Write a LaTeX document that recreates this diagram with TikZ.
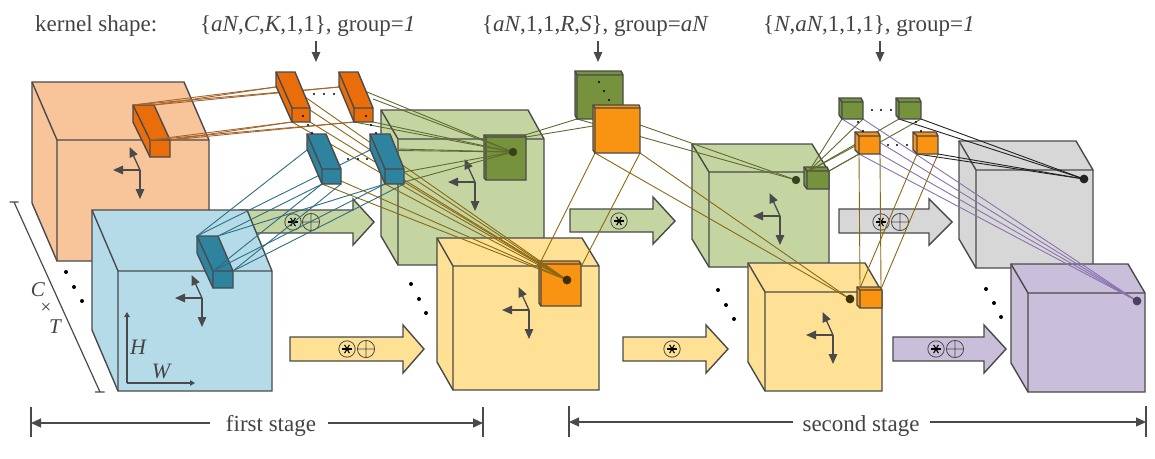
\documentclass[tikz,border=0pt]{standalone}
\usepackage{fontspec}
\setmainfont{Liberation Serif}
\usetikzlibrary{arrows.meta,calc}
\definecolor{edgeC}{HTML}{4A4A4A}
\definecolor{txtC}{HTML}{444444}
\definecolor{peachC}{HTML}{F8C49A}
\definecolor{skyC}{HTML}{B5DBE8}
\definecolor{sageC}{HTML}{C4D5A2}
\definecolor{butterC}{HTML}{FEE195}
\definecolor{greyC}{HTML}{D7D7D7}
\definecolor{lilacC}{HTML}{C9BFDA}
\definecolor{dkorangeC}{HTML}{E96E0B}
\definecolor{tealC}{HTML}{2E839E}
\definecolor{mossC}{HTML}{76923C}
\definecolor{brightC}{HTML}{F99312}
\definecolor{lnOlive}{HTML}{5F6B2F}
\definecolor{lnGold}{HTML}{8B6914}
\definecolor{lnTeal}{HTML}{2B6E85}
\definecolor{lnBrown}{HTML}{A5652F}
\definecolor{lnPurple}{HTML}{8A72AE}
\definecolor{lnBlack}{HTML}{222222}
\definecolor{dotOlive}{HTML}{39401C}
\definecolor{dotGold}{HTML}{3F2F09}
\definecolor{dotPurple}{HTML}{4C3F60}
\tikzset{
  facet/.style={draw=edgeC,line width=1.4pt,line join=miter},
  axisarrow/.style={draw=edgeC,line width=1.3pt,-{Triangle[width=8.5pt,length=10pt]},color=edgeC},
  hwarrow/.style={draw=edgeC,line width=1.2pt,-{Triangle[width=5.5pt,length=5pt]},color=edgeC},
  dimarrow/.style={draw=edgeC,line width=1.2pt,-{Triangle[width=9pt,length=10pt]},color=edgeC},
  downarrow/.style={draw=edgeC,line width=1.2pt,-{Triangle[width=8.5pt,length=10pt]},color=edgeC},
  wire/.style={line width=0.9pt},
  olive/.style={wire,draw=lnOlive},
  gold/.style={wire,draw=lnGold},
  tealwire/.style={wire,draw=lnTeal},
  brown/.style={wire,draw=lnBrown},
  lilac/.style={wire,draw=lnPurple},
  blackwire/.style={wire,draw=lnBlack},
  label/.style={text=txtC,font=\fontsize{23}{23}\selectfont,inner sep=0pt,anchor=base west},
  midlabel/.style={text=txtC,font=\fontsize{23}{23}\selectfont,inner sep=0pt,anchor=base},
  dimlabel/.style={text=txtC,font=\fontsize{22}{22}\selectfont\itshape,inner sep=0pt},
  tiny/.style={circle,fill=black,inner sep=0pt,minimum size=2.4pt},
  ell/.style={circle,fill=black,inner sep=0pt,minimum size=4pt},
}
% name, colour, back-top-left x,y, back-top-right x, front-top-left x,y, front-top-right x, bottom y
\newcommand\cuboid[9]{%
  \coordinate (#1-a) at (#3,#4);
  \coordinate (#1-b) at (#5,#4);
  \coordinate (#1-g) at (#6,#7);
  \coordinate (#1-c) at (#8,#7);
  \coordinate (#1-d) at (#8,#9);
  \coordinate (#1-e) at (#6,#9);
  \coordinate (#1-f) at (#3,#4+#9-#7);
  \draw[facet,fill=#2] (#1-a) -- (#1-b) -- (#1-c) -- (#1-d) -- (#1-e) -- (#1-f) -- cycle;
  \draw[facet] (#1-a) -- (#1-g) -- (#1-c) (#1-g) -- (#1-e);
}
% colour, left x, body top y, body bottom y, head base x, tip x, mid y, head top y, head bottom y
\newcommand\blockarrow[9]{%
  \draw[facet,fill=#1] (#2,#3) -- (#5,#3) -- (#5,#8) -- (#6,#7) -- (#5,#9) -- (#5,#4) -- (#2,#4) -- cycle;
}
\newcommand\opstar[2]{%
  \draw[edgeC,line width=0.8pt] (#1,#2) circle (8.2);
  \foreach \t in {0,60,120} {\draw[black,line width=1.1pt] ($(#1,#2)+(\t:4.8)$) -- ($(#1,#2)+(\t+180:4.8)$);}
}
\newcommand\opplus[2]{%
  \draw[edgeC,line width=0.8pt] (#1,#2) circle (8.6) (#1-8.6,#2) -- (#1+8.6,#2) (#1,#2-8.6) -- (#1,#2+8.6);
}
\newcommand\axes[2]{%
  \draw[axisarrow] (#1,#2) -- (#1-27,#2);
  \draw[axisarrow] (#1,#2) -- (#1,#2+29);
  \draw[axisarrow] (#1,#2) -- (#1-10.5,#2-23);
}
\begin{document}
\begin{tikzpicture}[x=1pt,y=-1pt]
\useasboundingbox (0,0) rectangle (1155,458);
\fill[white] (0,0) rectangle (1155,458);

% ---- big feature blocks and block arrows
\cuboid{P}{peachC}{32}{82}{184}{57}{140}{209}{261}
\axes{140}{170}
\blockarrow{sageC}{240}{210}{233}{353}{374}{222}{199}{245}
\opstar{293}{222}\opplus{311}{222}
\cuboid{B}{skyC}{92}{210}{247}{118}{271}{272}{391}
\axes{202}{298}
\cuboid{GA}{sageC}{381}{110}{528}{398}{139}{544}{265}
\axes{475}{182}
\cuboid{YA}{butterC}{437}{238}{582}{453}{266}{599}{390}
\axes{529}{310}
\blockarrow{butterC}{290}{337}{361}{403}{424}{349}{325}{373}
\opstar{347}{349}\opplus{366}{349}
\blockarrow{sageC}{570}{209}{232}{653}{675}{221}{197}{244}
\opstar{619}{221}
\blockarrow{butterC}{623}{337}{361}{706}{728}{349}{325}{373}
\opstar{672}{349}
\cuboid{GB}{sageC}{692}{144}{812}{709}{172}{829}{267}
\axes{780}{216}
\cuboid{YB}{butterC}{748}{263}{865}{765}{292}{882}{391}
\axes{833}{335}
\blockarrow{greyC}{839}{209}{233}{929}{952}{222}{199}{245}
\opstar{881}{222}\opplus{900}{222}
\cuboid{H}{greyC}{959}{141}{1076}{976}{170}{1093}{268}
\cuboid{L}{lilacC}{1011}{264}{1128}{1028}{293}{1145}{392}
\blockarrow{lilacC}{893}{337}{361}{984}{1006}{349}{325}{373}
\opstar{936}{349}\opplus{955}{349}

% ---- patches lying on the blocks
\cuboid{pp}{dkorangeC}{133}{105}{154}{150}{140}{170}{157}
\cuboid{bp}{tealC}{197}{236}{218}{213}{271}{233}{288}
\cuboid{gp}{mossC}{484}{135}{525}{486}{137}{526}{180}
\cuboid{yp}{brightC}{539}{261}{579}{541}{264}{581}{306}
\cuboid{hp}{mossC}{804}{167}{827}{807}{171}{829}{189}
\cuboid{zp}{brightC}{857}{287}{880}{860}{290}{882}{308}

% ---- response points
\coordinate (gdot) at (513,152);
\coordinate (ydot) at (567,280);
\coordinate (hdot) at (796,180);
\coordinate (zdot) at (850,299);
\coordinate (kdot) at (1084,179);
\coordinate (ldot) at (1137,301);

% ---- kernel corner names
\coordinate (ka-e) at (292,122); \coordinate (ka-d) at (310,122);
\coordinate (ka-u) at (305,97); \coordinate (ka-v) at (310,110);
\coordinate (kb-e) at (354,122); \coordinate (kb-d) at (373,122);
\coordinate (kb-u) at (367,92); \coordinate (kb-v) at (373,99); \coordinate (kb-w) at (339,87);
\coordinate (ta-f) at (307,150); \coordinate (ta-e) at (322,184); \coordinate (ta-d) at (341,184);
\coordinate (ta-w) at (341,181);
\coordinate (tb-f) at (370,150); \coordinate (tb-e) at (385,184); \coordinate (tb-d) at (404,184);
\coordinate (tb-u) at (398,149); \coordinate (tb-v) at (398,150.5); \coordinate (tb-w) at (404,172); \coordinate (tb-x) at (404,182);
\coordinate (ka-f) at (276,87);
\coordinate (mg-e) at (577,119); \coordinate (mg-d) at (623,119);
\coordinate (mo-e) at (595,153); \coordinate (mo-d) at (640,153); \coordinate (mo-l) at (593,126);
\coordinate (ga-e) at (842,119); \coordinate (ga-d) at (863,119);
\coordinate (gb-e) at (899,119); \coordinate (gb-d) at (921,119);
\coordinate (oa-e) at (859,154); \coordinate (oa-d) at (880,154); \coordinate (oa-l) at (857,145);
\coordinate (ob-e) at (917,154); \coordinate (ob-d) at (938,154);
\coordinate (hp-l) at (809,171); \coordinate (yp-t) at (540,263); \coordinate (yp-r) at (582,265);
\coordinate (zp-l) at (860,288); \coordinate (zp-r) at (881,289);

% ---- connectors
\foreach \t in {pp-a,pp-b} {\draw[brown] (\t) -- (ka-f); \draw[brown] (\t) -- (kb-w);}
\foreach \t in {pp-g,pp-c} {\draw[brown] (\t) -- (ka-e); \draw[brown] (\t) -- (kb-e);}
\foreach \t in {ta-f,tb-f} {\draw[tealwire] (bp-a) -- (\t);}
\foreach \t in {ta-e,tb-e} {\draw[tealwire] (bp-b) -- (\t); \draw[tealwire] (bp-g) -- (\t);}
\foreach \t in {ta-d,tb-d} {\draw[tealwire] (bp-c) -- (\t);}
\foreach \t in {ka-u,ka-v,ka-e,ka-d,ta-e,ta-w,tb-e,tb-x} {\draw[gold] (\t) -- (ydot);}
\foreach \t in {kb-u,kb-v,kb-e,kb-d,tb-u,tb-v,tb-w,tb-x} {\draw[olive] (\t) -- (gdot);}
\draw[olive] (gp-b) -- (mg-e);
\draw[olive] (gp-c) -- (mo-l);
\draw[olive] (mg-e) -- (hdot);
\draw[olive] (mg-d) -- (hdot);
\draw[gold] (mo-e) -- (yp-t);
\draw[gold] (mo-d) -- (yp-r);
\draw[gold] (mo-e) -- (zdot);
\draw[gold] (mo-d) -- (zdot);
\draw[olive] (hp-l) -- (ga-e);
\draw[olive] (hp-l) -- (ga-d);
\draw[olive] (hp-l) -- (oa-l);
\draw[olive] (hp-l) -- (gb-e);
\draw[olive] (hp-c) -- (gb-d);
\draw[olive] (hp-c) -- (oa-e);
\draw[gold] (oa-e) -- (zp-l);
\draw[gold] (oa-d) -- (zp-r);
\draw[gold] (ob-e) -- (zp-l);
\draw[gold] (ob-d) -- (zp-r);
\foreach \t in {gb-e,gb-d,ob-e,ob-d} {\draw[blackwire] (\t) -- (kdot);}
\foreach \t in {ga-e,ga-d,oa-e,oa-d} {\draw[lilac] (\t) -- (ldot);}

% ---- kernels
\cuboid{ka}{dkorangeC}{276}{72}{295}{292}{108}{310}{122}
\cuboid{kb}{dkorangeC}{339}{72}{358}{354}{108}{373}{122}
\cuboid{ta}{tealC}{307}{134}{326}{322}{169}{341}{184}
\cuboid{tb}{tealC}{370}{134}{390}{385}{169}{404}{184}
\cuboid{mg}{mossC}{575}{71}{621}{577}{75}{623}{119}
\cuboid{mo}{brightC}{593}{105}{639}{595}{108}{640}{153}
\cuboid{ga}{mossC}{839}{98}{861}{842}{102}{863}{119}
\cuboid{gb}{mossC}{896}{98}{919}{899}{102}{921}{119}
\cuboid{oa}{brightC}{855}{132}{878}{859}{136}{880}{154}
\cuboid{ob}{brightC}{913}{132}{936}{917}{136}{938}{154}

% ---- response dots
\fill[dotOlive] (gdot) circle (4.2);
\fill[dotGold] (ydot) circle (4.4);
\fill[dotOlive] (hdot) circle (4.2);
\fill[dotGold] (zdot) circle (4.4);
\fill[lnBlack] (kdot) circle (4.4);
\fill[dotPurple] (ldot) circle (4.4);

% ---- small ellipsis dots
\foreach \p/\n in {303/116,366/116,314/94,324/94,334/94,348/159,358/159,367/159,308/125,312/133,371/125,376/133,
  599/82,604/91,609/100,872/110,881/110,891/110,858/122,863/131,916/122,888/145,897/145,907/145,921/131}
  {\node[tiny] (d\p-\n) at (\p,\n) {};}
\foreach \p/\n in {66/272,74/287,82/301,411/284,419/299,426/313,718/290,726/305,734/319,986/289,994/303,1001/317}
  {\node[ell] (e\p-\n) at (\p,\n) {};}

% ---- dimension marks
\coordinate (cta) at (14,202); \coordinate (ctb) at (100,392);
\draw[edgeC,line width=1.2pt] (cta) -- (ctb) (9.5,202) -- (18.5,202) (95,392) -- (104.5,392);
\node[dimlabel,font=\fontsize{21}{21}\selectfont\itshape] (cC) at (38,290) {C};
\node[dimlabel,font=\fontsize{19}{19}\selectfont] (cx) at (46,308.5) {×};
\node[dimlabel,font=\fontsize{21}{21}\selectfont\itshape] (cT) at (55,327) {T};
\coordinate (hwo) at (127,383); \coordinate (hwh) at (127,312); \coordinate (hww) at (195,383);
\draw[hwarrow] (hwo) -- (hwh);
\draw[hwarrow] (hwo) -- (hww);
\node[dimlabel] (hl) at (138,347) {H};
\node[dimlabel] (wl) at (161,371) {W};

% ---- stages
\draw[edgeC,line width=1.2pt] (31,407) -- (31,437) (483,407) -- (483,437) (569,406) -- (569,437) (1146,406) -- (1146,437);
\node[midlabel] (first) at (271,431) {first stage};
\node[midlabel] (second) at (861,431) {second stage};
\coordinate (fl) at (31,423); \coordinate (flb) at (210,423);
\coordinate (fr) at (483,423); \coordinate (frb) at (328,423);
\coordinate (sl) at (569,422); \coordinate (slb) at (793,422);
\coordinate (sr) at (1146,422); \coordinate (srb) at (930,422);
\draw[dimarrow] (flb) -- (fl);
\draw[dimarrow] (frb) -- (fr);
\draw[dimarrow] (slb) -- (sl);
\draw[dimarrow] (srb) -- (sr);

% ---- top labels
\node[label] (lbk) at (35,31) {kernel shape:};
\node[label] (lba) at (200,31) {\{\textit{aN},\textit{C},\textit{K},1,1\}, group=\textit{1}};
\node[label] (lbb) at (482,31) {\{\textit{aN},1,1,\textit{R},\textit{S}\}, group=\textit{aN}};
\node[label] (lbc) at (763,31) {\{\textit{N},\textit{aN},1,1,1\}, group=\textit{1}};
\coordinate (a1s) at (316,41); \coordinate (a1e) at (316,62);
\coordinate (a2s) at (598,41); \coordinate (a2e) at (598,62);
\coordinate (a3s) at (880,41); \coordinate (a3e) at (880,62);
\draw[downarrow] (a1s) -- (a1e);
\draw[downarrow] (a2s) -- (a2e);
\draw[downarrow] (a3s) -- (a3e);
\end{tikzpicture}
\end{document}
